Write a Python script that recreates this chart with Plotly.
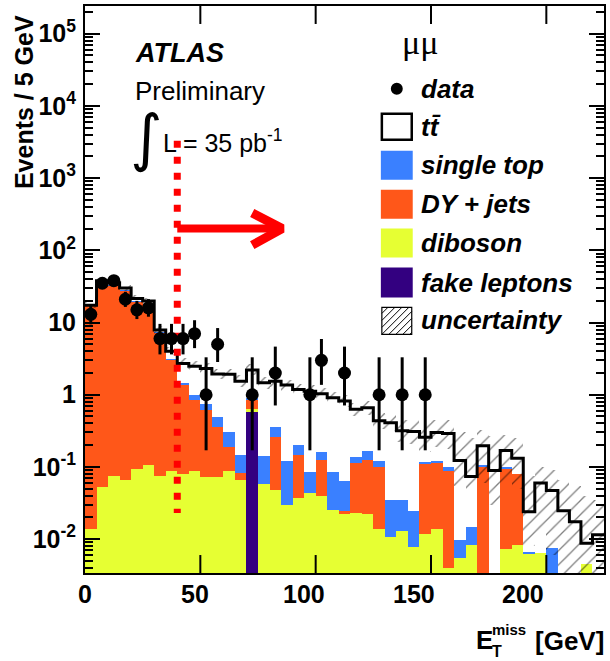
import numpy as np
import plotly.graph_objects as go

# ---------------- data ----------------
bin_lo = list(range(0, 225, 5))          # 45 bins of 5 GeV, 0..225
bin_w = 5

data_counts = [13, 35, 38, 21, 15, 16, 6, 6, 6, 7,
               1, 5, 0, 0, 1, 0, 2, 0, 0, 1,
               3, 0, 2, 0, 0, 1, 0, 1, 0, 1,
               0, 0, 0, 0, 0, 0, 0, 0, 0, 0,
               0, 0, 0, 0, 0]
data_err_up = [4.67, 6.97, 7.22, 5.63, 4.96, 5.10, 3.58, 3.58, 3.58, 3.77,
               2.30, 3.38, 0, 0, 2.30, 0, 2.64, 0, 0, 2.30,
               2.92, 0, 2.64, 0, 0, 2.30, 0, 2.30, 0, 2.30,
               0, 0, 0, 0, 0, 0, 0, 0, 0, 0,
               0, 0, 0, 0, 0]
data_err_dn = [3.56, 5.89, 6.14, 4.55, 3.83, 3.96, 2.38, 2.38, 2.38, 2.58,
               0.83, 2.16, 0, 0, 0.83, 0, 1.29, 0, 0, 0.83,
               1.63, 0, 1.29, 0, 0, 0.83, 0, 0.83, 0, 0.83,
               0, 0, 0, 0, 0, 0, 0, 0, 0, 0,
               0, 0, 0, 0, 0]

fake = [0, 0, 0, 0, 0, 0, 0, 0, 0, 0,
        0, 0, 0, 0, 0.57, 0, 0, 0, 0, 0,
        0, 0, 0, 0, 0, 0, 0, 0, 0, 0,
        0, 0, 0, 0, 0, 0, 0, 0, 0, 0,
        0, 0, 0, 0, 0]
diboson = [0.014, 0.052, 0.074, 0.066, 0.094, 0.105, 0.076, 0.089, 0.080, 0.087,
           0.072, 0.072, 0.087, 0.065, 0.060, 0.058, 0.048, 0.030, 0.037, 0.043,
           0.040, 0.025, 0.022, 0.023, 0.022, 0.014, 0.0106, 0.013, 0.0078, 0.0119,
           0.0137, 0.004, 0.0055, 0.0084, 0, 0, 0.0073, 0.0084, 0.0063, 0.0064,
           0, 0, 0, 0.0045, 0]
dy_jets = [17.0, 37.0, 33.0, 27.4, 19.4, 17.7, 7.2, 2.96, 1.31, 0.77,
           0.54, 0.29, 0.10, 0.018, 0.205, 0, 0.208, 0, 0.110, 0,
           0.083, 0, 0.0025, 0.090, 0.101, 0.086, 0, 0, 0, 0.098,
           0.102, 0.085, 0, 0, 0.103, 0, 0.087, 0.071, 0, 0,
           0, 0, 0, 0, 0]
single_top = [0.1, 0.3, 0.4, 0.5, 0.5, 0.5, 0.2, 0.05, 0.07, 0.12,
              0.14, 0.13, 0.12, 0.063, 0.055, 0.082, 0.096, 0.089, 0.057, 0.042,
              0.037, 0.060, 0.040, 0.023, 0.042, 0.019, 0.024, 0.022, 0.017, 0.009,
              0.007, 0.010, 0.0041, 0.0065, 0.002, 0, 0.004, 0, 0.0003, 0,
              0.0075, 0, 0, 0, 0]
ttbar = [0.3, 0.7, 2.1, 2.0, 1.5, 1.5, 0.4, 0.9, 1.24, 1.5,
         1.55, 1.45, 1.61, 1.39, 1.31, 1.32, 1.19, 1.24, 0.98, 1.03,
         0.87, 0.825, 0.756, 0.494, 0.495, 0.316, 0.375, 0.282, 0.285, 0.138,
         0.177, 0.191, 0.113, 0.059, 0.092, 0.089, 0.070, 0.053, 0.0174, 0.0536,
         0.0395, 0.0247, 0.0174, 0.0043, 0.0115]

unc_hi = [19.0, 41.0, 38.5, 33.0, 24.0, 22.0, 9.0, 4.6, 3.2, 2.95,
          2.75, 2.3, 2.3, 1.85, 2.65, 1.75, 1.85, 1.62, 1.42, 1.35,
          1.24, 1.1, 0.99, 0.78, 0.82, 0.56, 0.54, 0.45, 0.44, 0.40,
          0.45, 0.44, 0.30, 0.25, 0.32, 0.27, 0.28, 0.25, 0.075, 0.10,
          0.09, 0.065, 0.055, 0.04, 0.035]
unc_lo = [16.0, 35.0, 32.5, 27.5, 19.5, 18.0, 7.0, 3.5, 2.3, 2.1,
          1.95, 1.65, 1.6, 1.3, 1.85, 1.22, 1.3, 1.14, 0.98, 0.93,
          0.86, 0.76, 0.68, 0.51, 0.53, 0.34, 0.31, 0.22, 0.21, 0.16,
          0.19, 0.18, 0.055, 0.05, 0.06, 0.03, 0.06, 0.05, 0.008, 0.012,
          0.006, 0.003, 0.003, 0.003, 0.003]

x_tick_vals = [0, 50, 100, 150, 200]
x_tick_text = ["0", "50", "100", "150", "200"]
y_tick_vals = [1e-2, 1e-1, 1, 10, 1e2, 1e3, 1e4, 1e5]
y_tick_text = ["10<sup>-2</sup>", "10<sup>-1</sup>", "1", "10",
               "10<sup>2</sup>", "10<sup>3</sup>", "10<sup>4</sup>", "10<sup>5</sup>"]

cut_value = 40      # GeV, MET cut

# ---------------- styles ----------------
C_STOP = "#3a80ff"
C_DY = "#ff5719"
C_DIB = "#e6ff33"
C_FAKE = "#330080"
C_RED = "#ff0000"
FONT = "Liberation Sans"
Y_RANGE = [-2.469, 5.384]        # log10 range of the y axis
TICK_DEC = 18 / 72.33            # 18 px tick length in decades

# ---------------- derived ----------------
lo = np.array(bin_lo, dtype=float)
centers = lo + bin_w / 2
comps = [("fake leptons", fake, C_FAKE), ("diboson", diboson, C_DIB),
         ("DY + jets", dy_jets, C_DY), ("single top", single_top, C_STOP),
         ("ttbar", ttbar, "white")]
floor = 1e-5
base = np.full(len(bin_lo), floor)

fig = go.Figure()
for name, vals, col in comps:
    v = np.array(vals, dtype=float)
    fig.add_trace(go.Bar(x=centers, y=v, base=base.copy(), width=bin_w,
                         marker=dict(color=col, line=dict(width=0)),
                         showlegend=False, hoverinfo="skip", name=name))
    base = base + v
total = base - floor

# total outline (step)
edges = np.append(lo, lo[-1] + bin_w)
fig.add_trace(go.Scatter(x=edges, y=np.append(total, total[-1]), mode="lines",
                         line=dict(shape="hv", color="black", width=3),
                         showlegend=False, hoverinfo="skip"))

# uncertainty hatch
hi = np.array(unc_hi)
lo_u = np.array(unc_lo)
fig.add_trace(go.Bar(x=centers, y=hi - lo_u, base=lo_u, width=bin_w,
                     marker=dict(color="rgba(0,0,0,0)", line=dict(width=0),
                                 pattern=dict(shape="/", fgcolor="black",
                                              bgcolor="rgba(0,0,0,0)",
                                              size=10, solidity=0.13)),
                     showlegend=False, hoverinfo="skip"))

# x-axis major ticks (inside, bottom and top)
tx, ty = [], []
for xv in x_tick_vals[1:]:
    tx += [xv, xv, None, xv, xv, None]
    ty += [10 ** Y_RANGE[0], 10 ** (Y_RANGE[0] + TICK_DEC), None,
           10 ** Y_RANGE[1], 10 ** (Y_RANGE[1] - TICK_DEC), None]
fig.add_trace(go.Scatter(x=tx, y=ty, mode="lines", line=dict(color="black", width=2),
                         showlegend=False, hoverinfo="skip", cliponaxis=False))

# red cut line and arrow
fig.add_trace(go.Scatter(x=[cut_value, cut_value], y=[3300, 0.023], mode="lines",
                         line=dict(color=C_RED, width=7, dash="7px,9px"),
                         showlegend=False, hoverinfo="skip"))
fig.add_trace(go.Scatter(x=[cut_value, 85], y=[200, 200], mode="lines",
                         line=dict(color=C_RED, width=8),
                         showlegend=False, hoverinfo="skip"))
fig.add_trace(go.Scatter(x=[72.5, 85.5, 72.5], y=[330, 200, 118], mode="lines",
                         line=dict(color=C_RED, width=9),
                         showlegend=False, hoverinfo="skip"))

# data points
dc = np.array(data_counts, dtype=float)
m = dc > 0
fig.add_trace(go.Scatter(x=centers[m], y=dc[m], mode="markers",
                         marker=dict(color="black", size=13),
                         error_y=dict(type="data", symmetric=False,
                                      array=np.array(data_err_up)[m],
                                      arrayminus=np.array(data_err_dn)[m],
                                      color="black", thickness=3, width=0),
                         showlegend=False, hoverinfo="skip"))

# ---------------- layout helpers ----------------
L, R, T, B = 85, 606, 5, 573
W, H = 610, 661


def px(x):
    return (x - L) / (R - L)


def py(y):
    return (B - y) / (B - T)


shapes = []
annotations = []


def text(t, x, y, size, xanchor="left", yanchor="middle", family=FONT, angle=0):
    annotations.append(dict(text=t, x=px(x), y=py(y), xref="paper", yref="paper",
                            xanchor=xanchor, yanchor=yanchor, showarrow=False,
                            textangle=angle,
                            font=dict(family=family, size=size, color="black")))


def box(x0, y0, x1, y1, fill, lw=0, lc="black"):
    shapes.append(dict(type="rect", xref="paper", yref="paper",
                       x0=px(x0), x1=px(x1), y0=py(y1), y1=py(y0),
                       fillcolor=fill, line=dict(width=lw, color=lc)))


# x tick labels (the reference places them on a slightly compressed scale)
label_px = [85, 195, 305, 415, 525]
for t, xx in zip(x_tick_text, label_px):
    text("<b>" + t + "</b>", xx, 594, 25, xanchor="center")

# ATLAS label
text("<b><i>ATLAS</i></b>", 133, 52, 27)
text("Preliminary", 133, 90, 26)
text("\u222b", 128, 137, 62, family="DejaVu Sans")
text("L = 35 pb<sup>-1</sup>", 161, 140, 25)
text("\u03bc\u03bc", 401, 42, 34, family="Liberation Serif")

# legend
shapes.append(dict(type="circle", xref="paper", yref="paper",
                   x0=px(392), x1=px(404), y0=py(94), y1=py(82),
                   fillcolor="black", line=dict(width=0)))
box(383, 113, 413, 139, "white", lw=2.5)
box(382, 150, 414, 179, C_STOP)
box(382, 189, 414, 218, C_DY)
box(382, 228, 414, 257, C_DIB)
box(382, 267, 414, 297, C_FAKE)
box(383, 307, 413, 334, "white", lw=1.2)
hx0, hy0, hx1, hy1 = 383, 307, 413, 334
for c in range(hx0 + hy0 + 6, hx1 + hy1, 7):
    xa = max(hx0, c - hy1)
    xb = min(hx1, c - hy0)
    if xb - xa < 1:
        continue
    shapes.append(dict(type="line", xref="paper", yref="paper",
                       x0=px(xa), y0=py(c - xa), x1=px(xb), y1=py(c - xb),
                       line=dict(color="black", width=1)))

leg_items = [("data", 88), ("tt\u0304", 126), ("single top", 164), ("DY + jets", 203),
             ("diboson", 242), ("fake leptons", 282), ("uncertainty", 320)]
for t, yy in leg_items:
    text("<b><i>" + t + "</i></b>", 420, yy, 26)

# axis titles
text("<b>Events / 5 GeV</b>", 24, 101, 25, xanchor="center", angle=-90)
text("<b>E</b>", 476, 640, 26)
text("<b>miss</b>", 492, 630, 15)
text("<b>T</b>", 492, 652, 16)
text("<b>[GeV]</b>", 608, 641, 26, xanchor="right")

minor_vals = [k * 10.0 ** e for e in range(-3, 6) for k in range(2, 10)]

fig.update_layout(
    width=W, height=H, autosize=False,
    margin=dict(l=L, r=W - R, t=T, b=H - B, pad=0),
    paper_bgcolor="white", plot_bgcolor="white",
    barmode="overlay", bargap=0,
    font=dict(family=FONT, color="black"),
    showlegend=False,
    xaxis=dict(range=[0, 225], showline=True, linewidth=2, linecolor="black",
               mirror=True, ticks="", showticklabels=False,
               showgrid=False, zeroline=False),
    yaxis=dict(type="log", range=Y_RANGE, showline=True, linewidth=2,
               linecolor="black", mirror="ticks", ticks="inside", ticklen=15,
               tickwidth=1.5, tickcolor="black", tickvals=y_tick_vals,
               ticktext=["<b>" + t + "</b>" for t in y_tick_text],
               tickfont=dict(size=25, family=FONT, color="black"),
               showgrid=False, zeroline=False, ticklabelstandoff=2,
               minor=dict(tickvals=minor_vals, ticks="inside", ticklen=8,
                          tickwidth=1.5, tickcolor="black", showgrid=False)),
    shapes=shapes,
    annotations=annotations,
)

fig.write_html("out.html", config={"displayModeBar": False},
               post_script="document.body.style.margin='0px';document.body.style.padding='0px';")
